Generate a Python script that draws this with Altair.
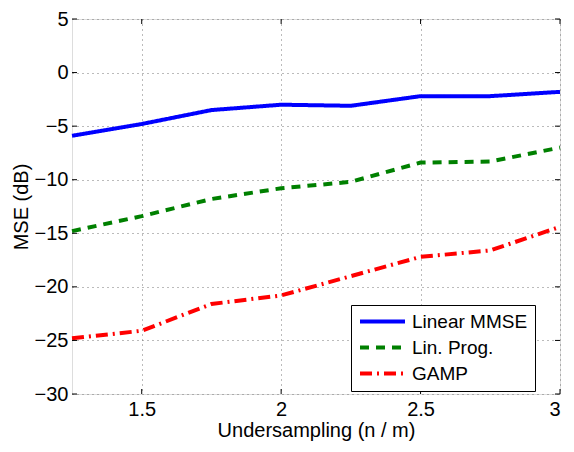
import altair as alt
import pandas as pd

undersampling = [1.25, 1.5, 1.75, 2.0, 2.25, 2.5, 2.75, 3.0]
linear_mmse = [-5.9, -4.8, -3.5, -3.0, -3.1, -2.2, -2.2, -1.8]
lin_prog = [-14.8, -13.4, -11.8, -10.8, -10.2, -8.4, -8.3, -7.0]
gamp = [-24.8, -24.1, -21.6, -20.8, -19.0, -17.2, -16.6, -14.4]

series_names = ["Linear MMSE", "Lin. Prog.", "GAMP"]
series_colors = ["#0000ff", "#008000", "#ff0000"]
series_dashes = [[1, 0], [9, 7], [12, 5, 2, 5]]

x_ticks = [1.5, 2.0, 2.5, 3.0]
y_ticks = [-30, -25, -20, -15, -10, -5, 0, 5]

rows = []
for name, vals in zip(series_names, [linear_mmse, lin_prog, gamp]):
    for xv, yv in zip(undersampling, vals):
        rows.append({"x": xv, "y": yv, "series": name})
df = pd.DataFrame(rows)

W, H = 488, 375
FONT = "Liberation Sans"
TICK_FS = 20
TITLE_FS = 20
LEGEND_FS = 19

xscale = alt.Scale(domain=[1.25, 3.0], nice=False, zero=False)
yscale = alt.Scale(domain=[-30, 5], nice=False, zero=False)

lines = alt.Chart(df).mark_line(strokeWidth=4).encode(
    x=alt.X("x:Q", scale=xscale, title="Undersampling (n / m)",
            axis=alt.Axis(values=x_ticks, format="~g", grid=True, gridDash=[1, 4],
                          gridColor="#777", gridOpacity=1, tickSize=0, labelPadding=5,
                          labelFontSize=TICK_FS, titleFontSize=TITLE_FS, titlePadding=1,
                          labelFont=FONT, titleFont=FONT, labelColor="black",
                          titleColor="black", titleFontWeight="normal", domain=False)),
    y=alt.Y("y:Q", scale=yscale, title="MSE (dB)",
            axis=alt.Axis(values=y_ticks, grid=True, gridDash=[1, 4], gridColor="#777",
                          gridOpacity=1, tickSize=0, labelPadding=4,
                          labelFontSize=TICK_FS, titleFontSize=TITLE_FS, titlePadding=3,
                          labelFont=FONT, titleFont=FONT, labelColor="black",
                          titleColor="black", titleFontWeight="normal", domain=False)),
    color=alt.Color("series:N",
                    scale=alt.Scale(domain=series_names, range=series_colors),
                    legend=alt.Legend(title=None, orient="none", legendX=279, legendY=286,
                                      fillColor="white", strokeColor="black", padding=7,
                                      labelFont=FONT, labelFontSize=LEGEND_FS, labelColor="black",
                                      symbolType="M-1,0H5", symbolSize=225,
                                      symbolStrokeWidth=4, labelOffset=35, rowPadding=6)),
    strokeDash=alt.StrokeDash("series:N",
                              scale=alt.Scale(domain=series_names, range=series_dashes),
                              legend=None),
)

xt = pd.DataFrame({"x": x_ticks})
yt = pd.DataFrame({"y": y_ticks})

tick_bottom = alt.Chart(xt).mark_rule(color="black").encode(
    x=alt.X("x:Q", scale=xscale), y=alt.value(H), y2=alt.value(H - 5))
tick_top = alt.Chart(xt).mark_rule(color="black").encode(
    x=alt.X("x:Q", scale=xscale), y=alt.value(0), y2=alt.value(5))
tick_left = alt.Chart(yt).mark_rule(color="black").encode(
    y=alt.Y("y:Q", scale=yscale), x=alt.value(0), x2=alt.value(5))
tick_right = alt.Chart(yt).mark_rule(color="black").encode(
    y=alt.Y("y:Q", scale=yscale), x=alt.value(W), x2=alt.value(W - 5))

chart = alt.layer(lines, tick_bottom, tick_top, tick_left, tick_right).properties(
    width=W, height=H,
    padding={"left": 64, "top": 11, "right": 6, "bottom": 50},
    autosize=alt.AutoSizeParams(type="none"),
).configure_view(stroke="black", strokeWidth=1.2).configure(background="white")

chart.save("out.html", embed_options={"renderer": "svg", "actions": False})
